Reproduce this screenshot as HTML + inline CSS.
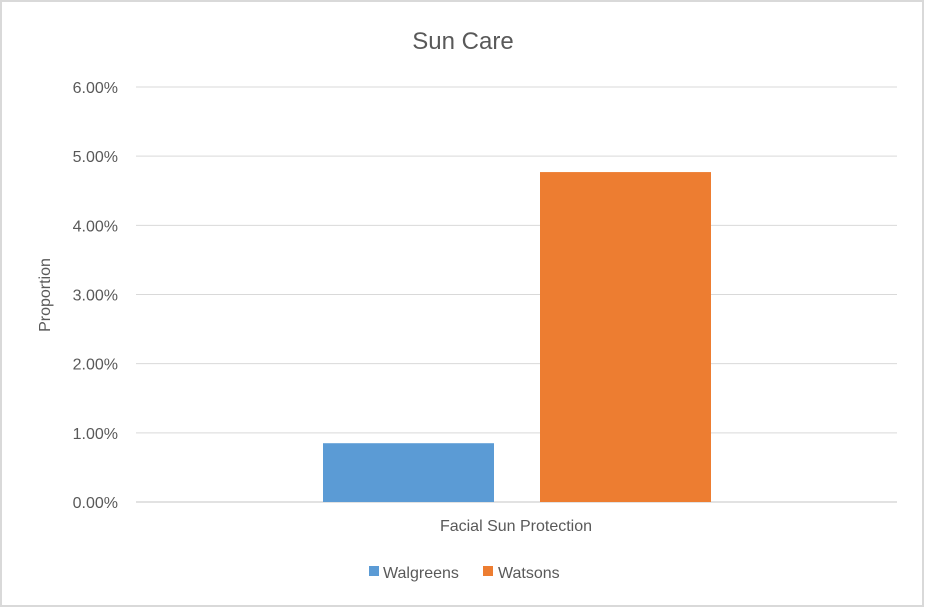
<!DOCTYPE html>
<html><head><meta charset="utf-8"><style>
html,body{margin:0;padding:0;background:#fff;}
svg{display:block;font-family:"Liberation Sans",sans-serif;}
</style></head><body>
<svg id="chart" width="925" height="608" viewBox="0 0 925 608">
<rect x="1" y="1" width="922" height="605" fill="#fff" stroke="#d9d9d9" stroke-width="2"/>
<text x="463" y="49" text-anchor="middle" font-size="24" fill="#595959">Sun Care</text>
<text transform="translate(50,295) rotate(-90)" text-anchor="middle" font-size="16" fill="#595959">Proportion</text>
<g id="grid"></g><g id="bars"></g>
<text x="516" y="531" text-anchor="middle" font-size="16" fill="#595959">Facial Sun Protection</text>
<g>
<rect x="369" y="566" width="10" height="10" fill="#5b9bd5"/>
<text x="383" y="578" font-size="16" fill="#595959">Walgreens</text>
<rect x="483" y="566" width="10" height="10" fill="#ed7d31"/>
<text x="498" y="578" font-size="16" fill="#595959">Watsons</text>
</g>
</svg>
<script>
const ticks=[0,1,2,3,4,5,6];
const tickLabels=["0.00%","1.00%","2.00%","3.00%","4.00%","5.00%","6.00%"];
const seriesNames=["Walgreens","Watsons"];
const seriesValues=[0.85,4.77];
const colors=["#5b9bd5","#ed7d31"];
const y0=502,y6=87,xL=136,xR=897;
function yScale(v){return y0-(v/6)*(y0-y6);}
const ns="http://www.w3.org/2000/svg";
const g=document.getElementById('grid');
ticks.forEach((t,i)=>{
 const l=document.createElementNS(ns,'line');
 l.setAttribute('x1',xL);l.setAttribute('x2',xR);
 l.setAttribute('y1',yScale(t));l.setAttribute('y2',yScale(t));
 l.setAttribute('stroke','#d9d9d9');l.setAttribute('stroke-width',t===0?1.5:1);
 
 
 g.appendChild(l);
 const tx=document.createElementNS(ns,'text');
 tx.setAttribute('x',118);tx.setAttribute('y',yScale(t)+6);
 tx.setAttribute('text-anchor','end');tx.setAttribute('font-size','16');tx.setAttribute('fill','#595959');
 tx.textContent=tickLabels[i];
 
 
 g.appendChild(tx);
});
const b=document.getElementById('bars');
const barX=[323,540],barW=171;
seriesValues.forEach((v,i)=>{
 const r=document.createElementNS(ns,'rect');
 r.setAttribute('x',barX[i]);r.setAttribute('width',barW);
 r.setAttribute('y',yScale(v));r.setAttribute('height',y0-yScale(v));
 r.setAttribute('fill',colors[i]);
 
 
 b.appendChild(r);
});
</script>
</body></html>
